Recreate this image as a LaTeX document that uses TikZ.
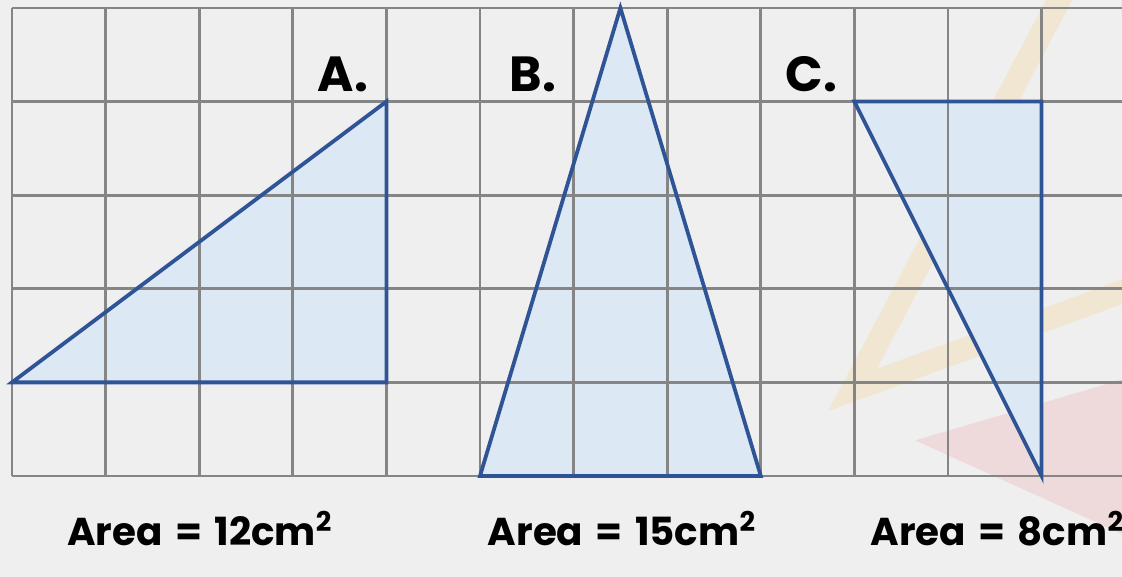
\documentclass[tikz,border=0pt]{standalone}
\usepackage{fontspec}
\setmainfont{Poppins}
\definecolor{bg}{HTML}{EFEFEF}
\definecolor{gridc}{HTML}{858585}
\definecolor{triline}{HTML}{2F5496}
\definecolor{trifill}{HTML}{DDE8F5}
\definecolor{wmorange}{HTML}{F1E6D2}
\definecolor{wmred}{HTML}{EEDADA}
\newcommand{\eqsp}{\hspace{0.32em}=\hspace{0.32em}}
\begin{document}
\begin{tikzpicture}[
  gridline/.style={draw=gridc, line width=0.85pt},
  tri/.style={draw=triline, line width=1.15pt, line join=miter},
  trif/.style={fill=trifill},
  letter/.style={font=\bfseries\fontsize{15}{18}\selectfont, anchor=base west, inner sep=0pt},
  arealabel/.style={font=\bfseries\fontsize{11.8}{14}\selectfont, anchor=base, inner sep=0pt}
]
% background and bounding box
\fill[bg] (-0.128,-1.079) rectangle (11.859,5.085);
\useasboundingbox (-0.128,-1.079) rectangle (11.859,5.085);
% faint watermarks
\fill[wmred] (9.65,0.38) -- (11.86,1.03) -- (11.86,-0.62) -- cycle;
\draw[wmorange, line width=7pt, line join=miter] (11.25,5.2) -- (8.98,0.92) -- (11.95,2.0);
% triangle fills
\coordinate (A1) at (0,1);
\coordinate (A2) at (4,4);
\coordinate (A3) at (4,1);
\coordinate (B1) at (5,0);
\coordinate (B2) at (6.5,5);
\coordinate (B3) at (8,0);
\coordinate (C1) at (9,4);
\coordinate (C2) at (11,4);
\coordinate (C3) at (11,0);
\fill[trif] (A1) -- (A2) -- (A3) -- cycle;
\fill[trif] (B1) -- (B2) -- (B3) -- cycle;
\fill[trif] (C1) -- (C2) -- (C3) -- cycle;
% grid
\foreach \x in {0,...,11} \draw[gridline] (\x,0) -- (\x,5);
\foreach \y in {0,...,5} \draw[gridline] (0,\y) -- (11.95,\y);
% triangle outlines
\draw[tri] (A1) -- (A2) -- (A3) -- cycle;
\draw[tri] (B1) -- (B2) -- (B3) -- cycle;
\draw[tri] (C1) -- (C2) -- (C3) -- cycle;
% labels
\node[letter] (la) at (3.26,4.103) {A.};
\node[letter] (lb) at (5.31,4.103) {B.};
\node[letter] (lc) at (8.26,4.103) {C.};
\node[arealabel] (aa) at (2.01,-0.748) {Area\eqsp12cm\textsuperscript{2}};
\node[arealabel] (ab) at (6.52,-0.748) {Area\eqsp15cm\textsuperscript{2}};
\node[arealabel] (ac) at (10.53,-0.748) {Area\eqsp8cm\textsuperscript{2}};
\end{tikzpicture}
\end{document}
